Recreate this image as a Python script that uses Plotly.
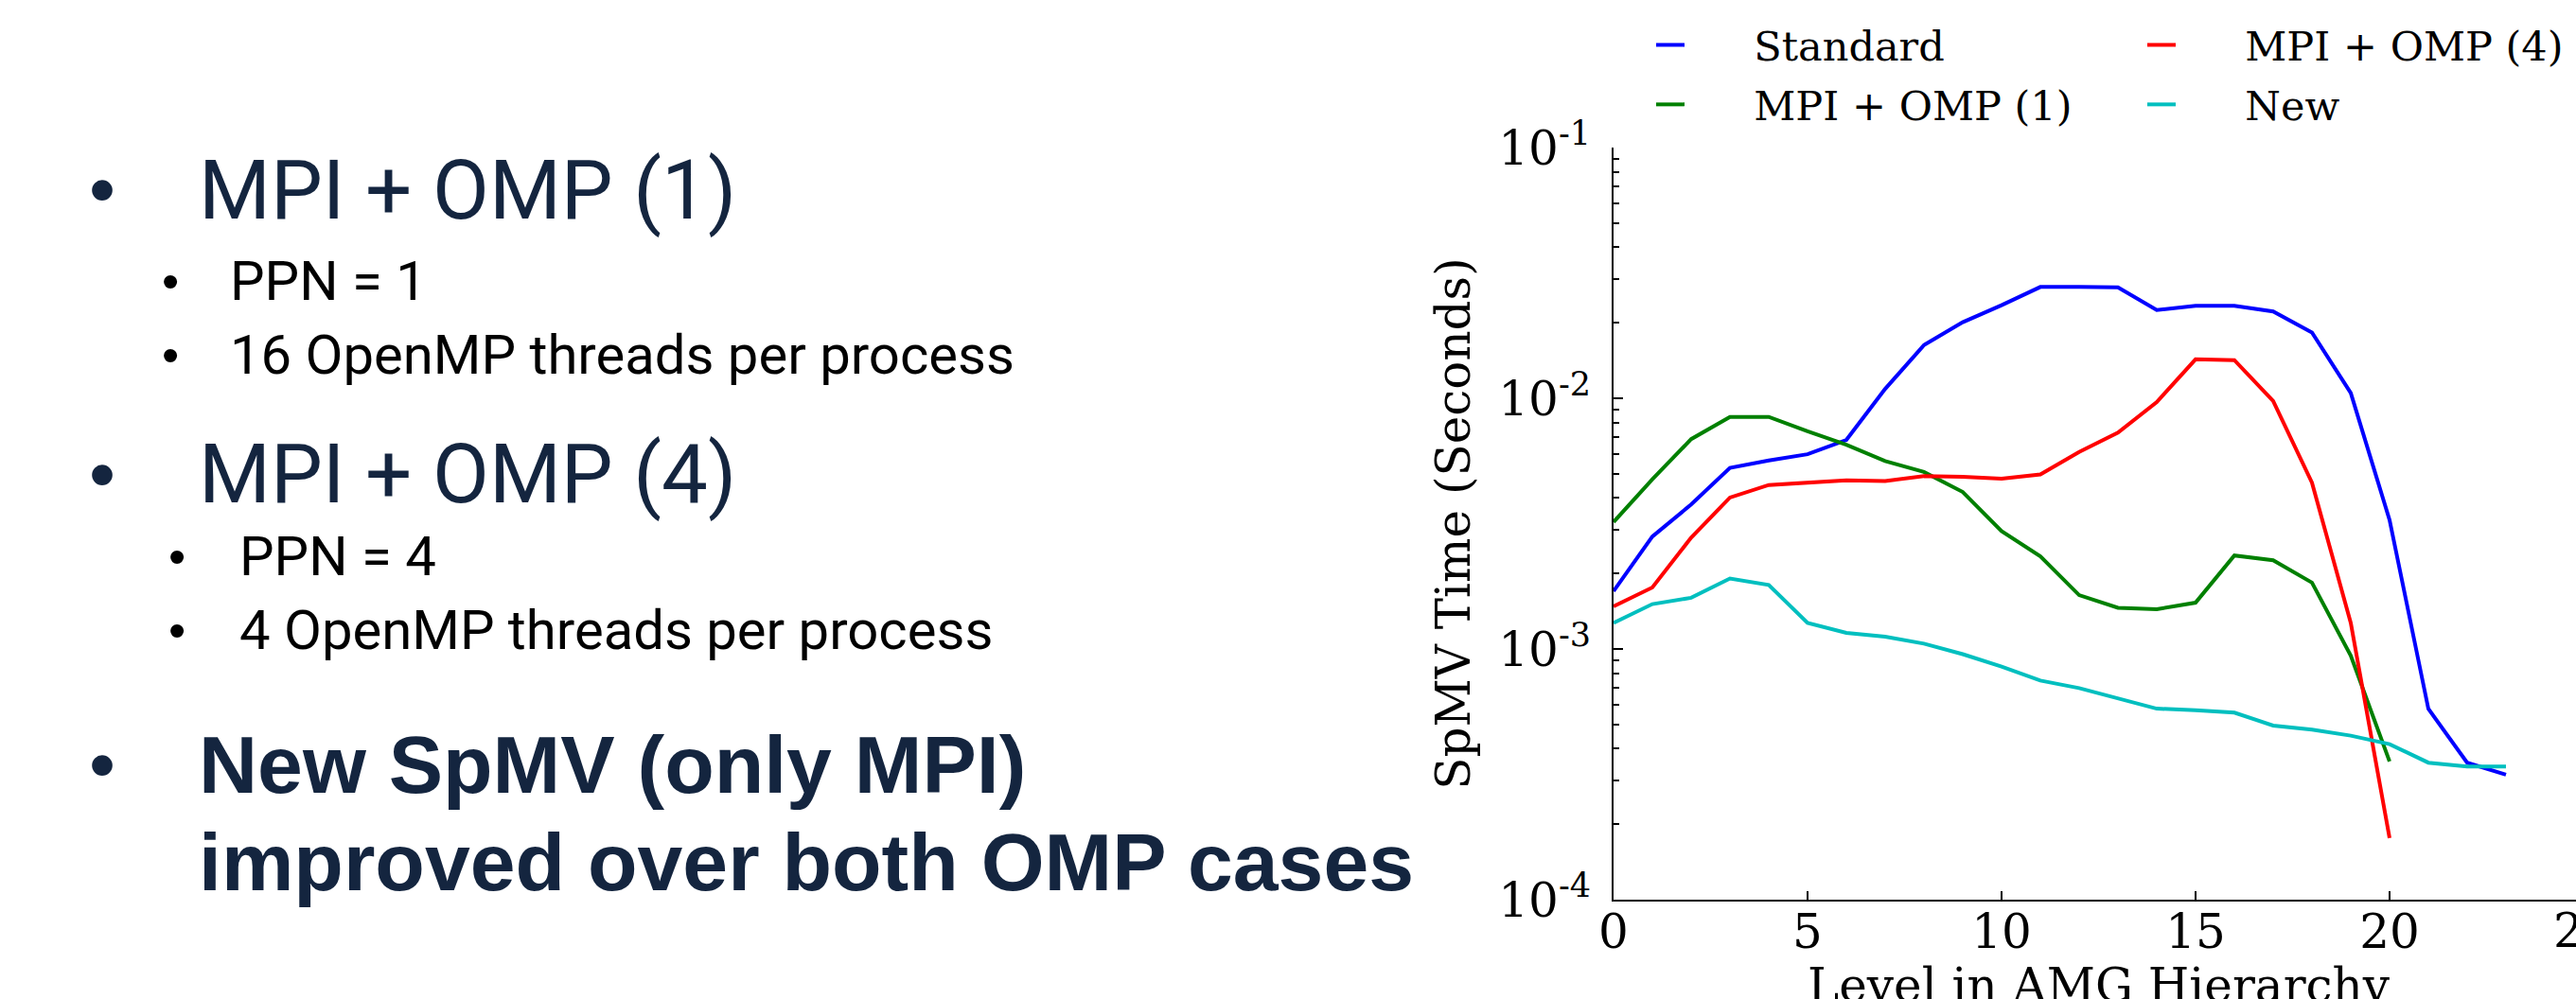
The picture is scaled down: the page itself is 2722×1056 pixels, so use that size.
import plotly.graph_objects as go

# ---------------- data ----------------
levels_std = list(range(24))
levels_omp = list(range(21))

standard = [1.70e-3, 2.81e-3, 3.77e-3, 5.28e-3, 5.65e-3, 5.98e-3, 6.82e-3, 1.09e-2,
            1.63e-2, 2.01e-2, 2.35e-2, 2.78e-2, 2.78e-2, 2.77e-2, 2.25e-2, 2.34e-2,
            2.34e-2, 2.22e-2, 1.83e-2, 1.05e-2, 3.27e-3, 5.77e-4, 3.52e-4, 3.15e-4]
omp1 = [3.21e-3, 4.75e-3, 6.87e-3, 8.43e-3, 8.43e-3, 7.38e-3, 6.53e-3, 5.62e-3,
        5.08e-3, 4.23e-3, 2.95e-3, 2.34e-3, 1.64e-3, 1.46e-3, 1.44e-3, 1.53e-3,
        2.36e-3, 2.26e-3, 1.84e-3, 9.4e-4, 3.56e-4]
omp4 = [1.48e-3, 1.76e-3, 2.78e-3, 4.02e-3, 4.51e-3, 4.61e-3, 4.71e-3, 4.68e-3,
        4.89e-3, 4.86e-3, 4.78e-3, 4.97e-3, 6.11e-3, 7.29e-3, 9.66e-3, 1.43e-2,
        1.42e-2, 9.76e-3, 4.61e-3, 1.27e-3, 1.76e-4]
new = [1.27e-3, 1.51e-3, 1.60e-3, 1.91e-3, 1.80e-3, 1.27e-3, 1.16e-3, 1.12e-3,
       1.05e-3, 9.53e-4, 8.50e-4, 7.48e-4, 6.98e-4, 6.35e-4, 5.78e-4, 5.70e-4,
       5.57e-4, 4.95e-4, 4.77e-4, 4.51e-4, 4.17e-4, 3.52e-4, 3.40e-4, 3.40e-4]

series_names = ["Standard", "MPI + OMP (1)", "MPI + OMP (4)", "New"]
series_colors = ["#0000ff", "#008000", "#ff0000", "#00bfbf"]

x_ticks = [0, 5, 10, 15, 20]
y_ticks = [1e-4, 1e-3, 1e-2, 1e-1]
y_tick_text = ["10<sup>-4</sup>", "10<sup>-3</sup>", "10<sup>-2</sup>", "10<sup>-1</sup>"]
x_title = "Level in AMG Hierarchy"
y_title = "SpMV Time (Seconds)"

bullets = [
    ("MPI + OMP (1)", "main"),
    ("PPN = 1", "sub"),
    ("16 OpenMP threads per process", "sub"),
    ("MPI + OMP (4)", "main"),
    ("PPN = 4", "sub2"),
    ("4 OpenMP threads per process", "sub2"),
    ("New SpMV (only MPI)", "bold"),
    ("improved over both OMP cases", "boldcont"),
]
bullet_y_px = [201, 297, 375, 501, 588, 666, 808, 911]

# ---------------- figure ----------------
W, H = 2722, 1056
SERIF = "DejaVu Serif"
NAVY = "#14253f"
PAD = "\u00a0" * 5   # gap between legend line and label, as in the reference

fig = go.Figure()
xs = [levels_std, levels_omp, levels_omp, levels_std]
ys = [standard, omp1, omp4, new]
legend_ids = ["legend", "legend", "legend2", "legend2"]
for i, (name, col) in enumerate(zip(series_names, series_colors)):
    fig.add_trace(go.Scatter(
        x=xs[i], y=ys[i], mode="lines", name=PAD + name,
        line=dict(color=col, width=4),
        legend=legend_ids[i], legendgroup=name,
    ))

ax_left = 1705
ax_right = W
px_per_unit = 41.0
x_max = (ax_right - ax_left) / px_per_unit
y_top, y_bot = 156, 951

minor_vals = [m * 10.0 ** e for e in (-4, -3, -2) for m in range(2, 10)]

fig.update_layout(
    width=W, height=H, autosize=False,
    margin=dict(l=0, r=0, t=0, b=0, pad=0, autoexpand=False),
    paper_bgcolor="white", plot_bgcolor="white",
    font=dict(family=SERIF, color="black"),
    xaxis=dict(
        domain=[ax_left / W, 1.0], range=[0, x_max], automargin=False,
        tickvals=x_ticks, ticks="inside", ticklen=9, tickwidth=1.5, tickcolor="black",
        showline=True, linewidth=2, linecolor="black",
        showgrid=False, zeroline=False,
        tickfont=dict(family=SERIF, size=50, color="black"),
        ticklabelstandoff=-11,
    ),
    yaxis=dict(
        type="log", domain=[(H - y_bot) / H, (H - y_top) / H], range=[-4, -1], automargin=False,
        tickvals=y_ticks, ticktext=y_tick_text,
        ticks="inside", ticklen=10, tickwidth=1.5, tickcolor="black",
        minor=dict(tickvals=minor_vals, ticks="inside", ticklen=6, tickwidth=1.5,
                   tickcolor="black", showgrid=False),
        showline=True, linewidth=2, linecolor="black",
        showgrid=False, zeroline=False,
        tickfont=dict(family=SERIF, size=50, color="black"),
        ticklabelstandoff=12,
        title=dict(text=y_title, font=dict(family=SERIF, size=50, color="black"),
                   standoff=14),
    ),
    legend=dict(
        x=1745 / W, xanchor="left", y=1 - 13 / H, yanchor="top",
        orientation="v", bgcolor="rgba(0,0,0,0)", borderwidth=0,
        font=dict(family=SERIF, size=43, color="black"),
        tracegroupgap=4, traceorder="grouped",
    ),
    legend2=dict(
        x=2264 / W, xanchor="left", y=1 - 13 / H, yanchor="top",
        orientation="v", bgcolor="rgba(0,0,0,0)", borderwidth=0,
        font=dict(family=SERIF, size=43, color="black"),
        tracegroupgap=4, traceorder="grouped",
    ),
    showlegend=True,
)

# partially visible "25" tick label at the right edge (as in the reference)
fig.add_annotation(x=(ax_left + 25 * px_per_unit) / W, xref="paper", y=(H - 984) / H, yref="paper",
                   text="25", showarrow=False, xanchor="center", yanchor="middle",
                   font=dict(family=SERIF, size=50, color="black"))

# x-axis title, running off the bottom edge as in the reference
fig.add_annotation(x=(ax_left + 12.5 * px_per_unit) / W, xref="paper", y=(H - 1042) / H, yref="paper",
                   text=x_title, showarrow=False, xanchor="center", yanchor="middle",
                   font=dict(family=SERIF, size=50, color="black"))

# ---------------- slide text ----------------
styles = {
    "main": dict(bx=108, tx=208, font=dict(family="Roboto", size=87, color=NAVY, weight=400),
                 bsize=80, bcol=NAVY),
    "sub": dict(bx=180, tx=241, font=dict(family="Roboto", size=58, color="black"),
                bsize=52, bcol="black"),
    "sub2": dict(bx=187, tx=251, font=dict(family="Roboto", size=58, color="black"),
                 bsize=52, bcol="black"),
    "bold": dict(bx=108, tx=208, font=dict(family="Liberation Sans", size=86, color=NAVY, weight="bold"),
                 bsize=80, bcol=NAVY),
    "boldcont": dict(bx=None, tx=208, font=dict(family="Liberation Sans", size=86, color=NAVY, weight="bold"),
                     bsize=80, bcol=NAVY),
}

for (text, kind), ypx in zip(bullets, bullet_y_px):
    st = styles[kind]
    yp = (H - ypx) / H
    if st["bx"] is not None:
        fig.add_annotation(x=st["bx"] / W, xref="paper", y=yp, yref="paper", text="•",
                           showarrow=False, xanchor="center", yanchor="middle",
                           font=dict(family="Liberation Sans", size=st["bsize"], color=st["bcol"]))
    txt = f"<b>{text}</b>" if kind in ("bold", "boldcont") else text
    fig.add_annotation(x=st["tx"] / W, xref="paper", y=yp, yref="paper", text=txt,
                       showarrow=False, xanchor="left", yanchor="middle",
                       font=st["font"])

fig.write_html("out.html", config={"displayModeBar": False},
               post_script="document.body.style.margin='0px';document.body.style.overflow='hidden';")
